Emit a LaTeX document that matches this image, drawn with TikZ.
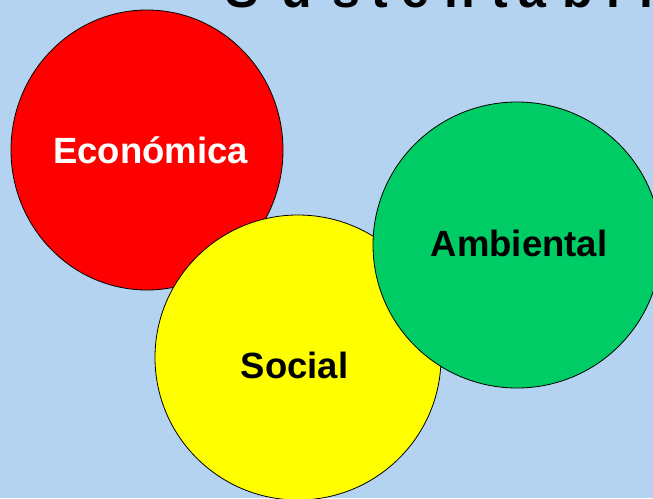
\documentclass[tikz,border=0pt]{standalone}
\usepackage{fontspec}
\setmainfont{Liberation Sans}
\usetikzlibrary{shapes.geometric}
\definecolor{bgblue}{RGB}{179,211,240}
\definecolor{ecored}{RGB}{255,0,0}
\definecolor{socyellow}{RGB}{255,255,0}
\definecolor{ambgreen}{RGB}{0,204,102}
\tikzset{
  blob/.style={ellipse, draw=black, line width=0.8pt, inner sep=0pt},
  lbl/.style={anchor=base, inner sep=0pt, font=\bfseries\fontsize{36.5}{40}\selectfont},
  ttl/.style={anchor=base, inner sep=0pt, font=\bfseries\fontsize{50}{56}\selectfont}
}
\begin{document}
\begin{tikzpicture}[x=1pt,y=-1pt]
\useasboundingbox (0,0) rectangle (653,498);
\fill[bgblue] (0,0) rectangle (653,498);
\begin{scope}
\clip (0,0) rectangle (653,498);
\node[blob, fill=ecored, minimum width=272pt, minimum height=280pt] (eco) at (147,150) {};
\node[blob, fill=socyellow, minimum width=286pt, minimum height=285pt] (soc) at (298,357.5) {};
\node[blob, fill=ambgreen, minimum width=288pt, minimum height=286pt] (amb) at (517,245) {};
\foreach \ch/\cx [count=\i] in {S/242,u/297,s/346,t/380,e/415,n/460,t/500,a/532,b/578,i/613,l/646,i/672,d/700,a/740,d/780}
  \node[ttl] (t\i) at (\cx,7.5) {\ch};
\end{scope}
\node[lbl, text=white] (ecot) at (150.5,163) {Económica};
\node[lbl, text=black] (ambt) at (519,256) {Ambiental};
\node[lbl, text=black] (soct) at (294.5,378) {Social};
\end{tikzpicture}
\end{document}
